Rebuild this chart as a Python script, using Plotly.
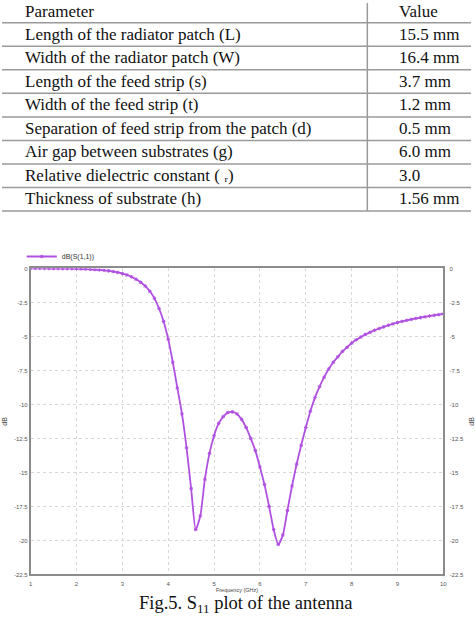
import plotly.graph_objects as go

# ---------------- data ----------------
param_names = [
    "Length of the radiator patch (L)",
    "Width of the radiator patch (W)",
    "Length of the feed strip (s)",
    "Width of the feed strip (t)",
    "Separation of feed strip from the patch (d)",
    "Air gap between substrates (g)",
    "Relative dielectric constant ( \u1d63)",
    "Thickness of substrate (h)",
]
param_values = ["15.5 mm", "16.4 mm", "3.7 mm", "1.2 mm", "0.5 mm", "6.0 mm", "3.0", "1.56 mm"]
table_header = ["Parameter", "Value"]

freq_ghz = [1.0, 1.1, 1.2, 1.3, 1.4, 1.5, 1.6, 1.7, 1.8, 1.9,
            2.0, 2.1, 2.2, 2.3, 2.4, 2.5, 2.6, 2.7, 2.8, 2.9,
            3.0, 3.1, 3.2, 3.3, 3.4, 3.5, 3.6, 3.7, 3.8, 3.9,
            4.0, 4.1, 4.2, 4.3, 4.4, 4.5, 4.6, 4.7, 4.8, 4.9,
            5.0, 5.1, 5.2, 5.3, 5.4, 5.5, 5.6, 5.7, 5.8, 5.9,
            6.0, 6.1, 6.2, 6.3, 6.4, 6.5, 6.6, 6.7, 6.8, 6.9,
            7.0, 7.1, 7.2, 7.3, 7.4, 7.5, 7.6, 7.7, 7.8, 7.9,
            8.0, 8.1, 8.2, 8.3, 8.4, 8.5, 8.6, 8.7, 8.8, 8.9,
            9.0, 9.1, 9.2, 9.3, 9.4, 9.5, 9.6, 9.7, 9.8, 9.9, 10.0]
s11_db = [0.0, 0.0, 0.0, 0.0, -0.01, -0.01, -0.01, -0.02, -0.02, -0.02,
          -0.03, -0.04, -0.05, -0.07, -0.09, -0.11, -0.14, -0.18, -0.23, -0.30,
          -0.38, -0.48, -0.62, -0.80, -1.02, -1.30, -1.68, -2.20, -2.95, -3.90,
          -5.20, -6.90, -8.80, -10.7, -13.2, -16.2, -19.2, -18.2, -15.5, -13.6,
          -12.3, -11.4, -10.9, -10.6, -10.55, -10.7, -11.1, -11.7, -12.5, -13.4,
          -14.6, -15.9, -17.5, -19.2, -20.3, -19.6, -17.8, -16.0, -14.4, -13.0,
          -11.7, -10.5, -9.5, -8.7, -8.0, -7.4, -6.9, -6.5, -6.1, -5.8,
          -5.5, -5.25, -5.05, -4.85, -4.7, -4.55, -4.42, -4.3, -4.18, -4.08,
          -3.98, -3.9, -3.82, -3.75, -3.68, -3.62, -3.56, -3.5, -3.45, -3.4, -3.35]
series_name = "dB(S(1,1))"
x_ticks = [1, 2, 3, 4, 5, 6, 7, 8, 9, 10]
y_ticks = [0, -2.5, -5, -7.5, -10, -12.5, -15, -17.5, -20, -22.5]
caption = "Fig.5. S<sub>11</sub> plot of the antenna"

W, H = 475, 619
PURPLE = "#b050e0"
GRID_LINE = "#9a9a9a"

def py(px):
    """pixel row (from top) -> paper y"""
    return 1 - px / H

def px_x(px):
    return px / W

fig = go.Figure()

# ---------------- table (shapes + text) ----------------
HEADER_H = 20.0
ROW_H = 23.75
COL_SPLIT = 370
TEXT_X1, TEXT_X2 = 21, 400
n_rows = len(param_names)
table_bottom = HEADER_H + n_rows * ROW_H

shapes = []
annotations = []
tfont = dict(family="Liberation Serif", size=17, color="#111")
for i in range(n_rows + 1):
    yy = HEADER_H + i * ROW_H
    shapes.append(dict(type="line", xref="paper", yref="paper",
                       x0=0, x1=1, y0=py(yy), y1=py(yy),
                       line=dict(color=GRID_LINE, width=1.5)))
shapes.append(dict(type="line", xref="paper", yref="paper",
                   x0=px_x(COL_SPLIT), x1=px_x(COL_SPLIT), y0=py(0), y1=py(table_bottom),
                   line=dict(color=GRID_LINE, width=1.5)))
annotations.append(dict(text=table_header[0], xref="paper", yref="paper", x=px_x(TEXT_X1), y=py(9),
                        xanchor="left", yanchor="middle", showarrow=False, font=tfont))
annotations.append(dict(text=table_header[1], xref="paper", yref="paper", x=px_x(TEXT_X2), y=py(9),
                        xanchor="left", yanchor="middle", showarrow=False, font=tfont))
for i, (nm, val) in enumerate(zip(param_names, param_values)):
    cy = HEADER_H + (i + 0.5) * ROW_H - 0.5
    annotations.append(dict(text=nm, xref="paper", yref="paper", x=px_x(TEXT_X1), y=py(cy),
                            xanchor="left", yanchor="middle", showarrow=False, font=tfont))
    annotations.append(dict(text=val, xref="paper", yref="paper", x=px_x(TEXT_X2), y=py(cy),
                            xanchor="left", yanchor="middle", showarrow=False, font=tfont))

annotations.append(dict(text=caption, xref="paper", yref="paper", x=px_x(247), y=py(607),
                        xanchor="center", yanchor="middle", showarrow=False,
                        font=dict(family="Liberation Serif", size=18.5, color="#111")))

# ---------------- S11 curve ----------------
fig.add_trace(go.Scatter(
    x=freq_ghz, y=s11_db, mode="lines+markers", name=series_name,
    line=dict(color=PURPLE, width=1.8, shape="spline", smoothing=0.6),
    marker=dict(color=PURPLE, size=3, symbol="asterisk", line=dict(color=PURPLE, width=1)),
    xaxis="x", yaxis="y",
))
fig.add_trace(go.Scatter(
    x=freq_ghz, y=s11_db, mode="lines", line=dict(width=0, color=PURPLE),
    showlegend=False, hoverinfo="skip", xaxis="x", yaxis="y2", opacity=0,
))

xd = [29 / W, 447 / W]
yd = [1 - 577 / H, 1 - 268 / H]
tickfont = dict(family="Arial", size=6, color="#555")
fig.update_layout(
    width=W, height=H,
    margin=dict(l=0, r=0, t=0, b=0),
    paper_bgcolor="white", plot_bgcolor="white",
    showlegend=True,
    legend=dict(x=20 / W, y=py(256), xanchor="left", yanchor="middle",
                orientation="h", font=dict(family="Arial", size=7, color="#333"),
                bgcolor="rgba(0,0,0,0)", itemwidth=30),
    xaxis=dict(domain=xd, range=[1, 10], tickvals=x_ticks, ticktext=[str(t) for t in x_ticks],
               showgrid=True, gridcolor="#d8d8d8", griddash="dot", gridwidth=1,
               showline=True, linecolor="#8c8c8c", linewidth=1.5, mirror=True,
               ticks="outside", ticklen=3, tickcolor="rgba(0,0,0,0)",
               tickfont=tickfont, zeroline=False, anchor="y",
               title=dict(text="Frequency (GHz)", font=dict(family="Arial", size=5.5, color="#444"), standoff=0)),
    yaxis=dict(domain=yd, range=[-22.5, 0], tickvals=y_ticks, ticktext=[f"{t:g}" for t in y_ticks],
               showgrid=True, gridcolor="#d8d8d8", griddash="dot", gridwidth=1,
               showline=True, linecolor="#8c8c8c", linewidth=1.5, mirror=True,
               ticks="", tickfont=tickfont, zeroline=False, anchor="x",
               title=dict(text="dB", font=dict(family="Arial", size=7, color="#444"), standoff=6)),
    yaxis2=dict(domain=yd, range=[-22.5, 0], tickvals=y_ticks, ticktext=[f"{t:g}" for t in y_ticks],
                overlaying="y", side="right", anchor="x", showgrid=False, zeroline=False,
                ticks="outside", ticklen=4, tickcolor="rgba(0,0,0,0)", tickfont=tickfont,
                title=dict(text="dB", font=dict(family="Arial", size=7, color="#444"), standoff=6)),
    shapes=shapes,
    annotations=annotations,
)

fig.write_html("out.html")
